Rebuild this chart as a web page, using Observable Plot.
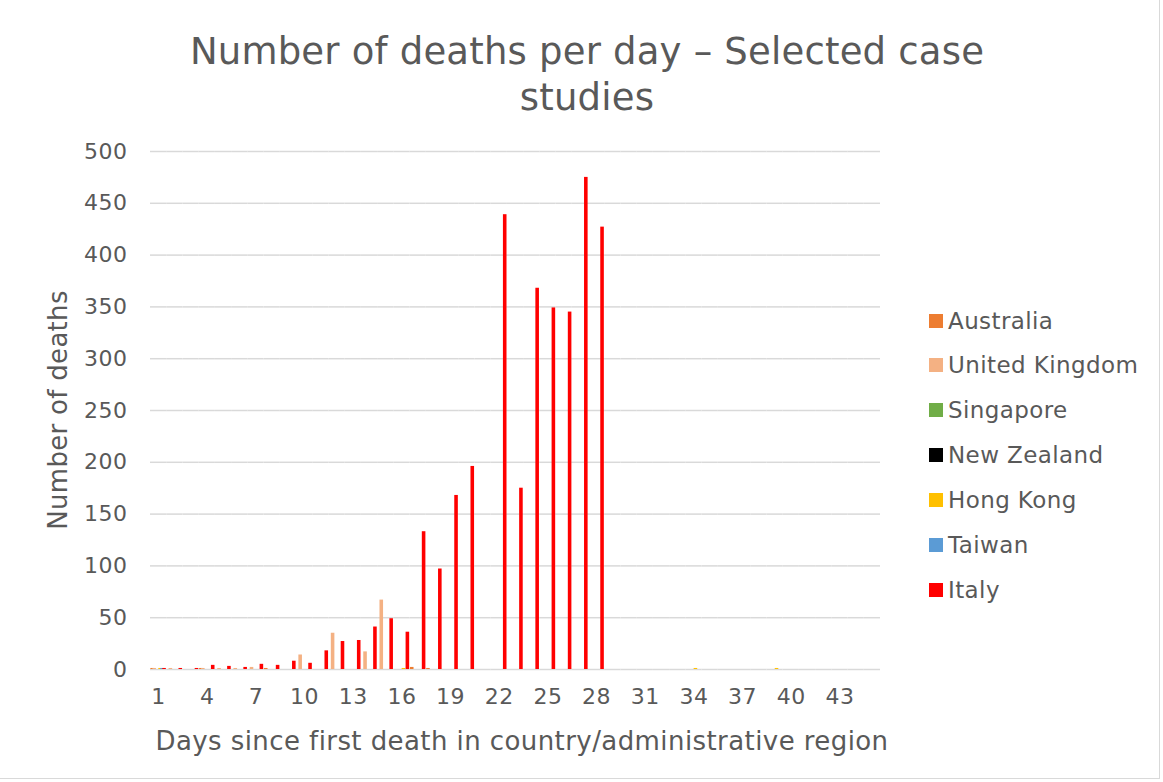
<!DOCTYPE html>
<html>
<head>
<meta charset="utf-8">
<script src="https://cdn.jsdelivr.net/npm/d3@7"></script>
<script src="https://cdn.jsdelivr.net/npm/@observablehq/plot@0.6"></script>
<style>
  body { margin: 0; background: #fff; }
  #chart { position: relative; width: 1163px; height: 782px; overflow: hidden; background: #fff;
           font-family: "DejaVu Sans", Verdana, sans-serif; color: #595959; }
  #chart svg { position: absolute; left: 0; top: 0; }
  #chart svg text { letter-spacing: 0.5px; }
  .title { position: absolute; left: 0; width: 1174px; text-align: center; font-size: 37px; line-height: 46px; top: 29px; white-space: nowrap; letter-spacing: 0.2px; }
  .ytitle { position: absolute; left: 58px; top: 410px; font-size: 26px; transform: translate(-50%, -50%) rotate(-90deg); white-space: nowrap; letter-spacing: 0.3px; }
  .xtitle { position: absolute; left: 522px; top: 741px; font-size: 26px; transform: translate(-50%, -50%); white-space: nowrap; letter-spacing: 0.42px; }
  .legend { position: absolute; left: 929px; top: 0; }
  .legend .item { position: absolute; left: 0; height: 30px; display: flex; align-items: center; font-size: 23px; white-space: nowrap; transform: translateY(-50%); letter-spacing: 0.4px; }
  .legend .sw { width: 14px; height: 14px; margin-right: 5px; flex: none; }
  .border { position: absolute; left: -2px; top: -2px; width: 1162px; height: 781px; border: 1px solid #d9d9d9; box-sizing: border-box; pointer-events: none; }
</style>
</head>
<body>
<div id="chart"></div>
<script>
// ---- data ----
const days = [1,2,3,4,5,6,7,8,9,10,11,12,13,14,15,16,17,18,19,20,21,22,23,24,25,26,27,28,29,30,31,32,33,34,35,36,37,38,39,40,41,42,43,44,45];
const xTickLabels = [1,4,7,10,13,16,19,22,25,28,31,34,37,40,43];
const yTicks = [0,50,100,150,200,250,300,350,400,450,500];
const countries = ["Australia","United Kingdom","Singapore","New Zealand","Hong Kong","Taiwan","Italy"];
const colors = ["#ED7D31","#F4B183","#70AD47","#000000","#FFC000","#5B9BD5","#FF0000"];

const australia = [1,0,0,1,0,0,0,1,0,0,0,0,0,0,0,0,2,1,0,0,0,0,0,0,0,0,0,0,0,0,0,0,0,0,0,0,0,0,0,0,0,0,0,0,0];
const unitedKingdom = [1,1,0,1,1,1,2,0,0,14,0,35,0,17,67,0,0,0,0,0,0,0,0,0,0,0,0,0,0,0,0,0,0,0,0,0,0,0,0,0,0,0,0,0,0];
const singapore = [0,0,0,0,0,0,0,0,0,0,0,0,0,0,0,0,0,0,0,0,0,0,0,0,0,0,0,0,0,0,0,0,0,0,0,0,0,0,0,0,0,0,0,0,0];
const newZealand = [0,0,0,0,0,0,0,0,0,0,0,0,0,0,0,0,0,0,0,0,0,0,0,0,0,0,0,0,0,0,0,0,0,0,0,0,0,0,0,0,0,0,0,0,0];
const hongKong = [1,0,0,0,0,0,0,0,0,0,0,0,0,0,0,1,0,0,0,0,0,0,0,0,0,0,0,0,0,0,0,0,0,1,0,0,0,0,1,0,0,0,0,0,0];
const taiwan = [1,0,0,0,0,0,0,0,0,0,0,0,0,0,0,0,0,0,0,0,0,0,0,0,0,0,0,0,0,0,0,0,0,0,0,0,0,0,0,0,0,0,0,0,0];
const italy = [1,1,1,4,3,2,5,4,8,6,18,27,28,41,49,36,133,97,168,196,0,439,175,368,349,345,475,427,0,0,0,0,0,0,0,0,0,0,0,0,0,0,0,0,0];

const series = [australia, unitedKingdom, singapore, newZealand, hongKong, taiwan, italy];

const data = [];
countries.forEach((c, i) => series[i].forEach((v, j) => data.push({day: days[j], country: c, deaths: v})));

const chart = document.getElementById("chart");

const plot = Plot.plot({
  width: 1163,
  height: 782,
  marginLeft: 150,
  marginRight: 283,
  marginTop: 151,
  marginBottom: 113,
  style: {fontFamily: "'DejaVu Sans', Verdana, sans-serif", fontSize: "22px", color: "#595959", background: "transparent", overflow: "visible"},
  facet: {data, x: "day"},
  fx: {domain: days, padding: 0, round: false, axis: "bottom", tickSize: 0, tickPadding: 19,
       tickFormat: d => xTickLabels.includes(d) ? String(d) : "", label: null},
  x: {domain: countries, axis: null, round: false, paddingInner: 0, paddingOuter: 0.6},
  y: {domain: [0, 500], ticks: yTicks, tickSize: 0, tickPadding: 23, label: null, tickFormat: d => String(d)},
  color: {domain: countries, range: colors},
  marks: [
    Plot.ruleY(yTicks, {stroke: "#d9d9d9", strokeWidth: 1.5}),
    Plot.barY(data, {x: "country", y: "deaths", fill: "country", insetLeft: -0.8, insetRight: -0.8})
  ]
});
chart.appendChild(plot);

// title
const title = document.createElement("div");
title.className = "title";
title.innerHTML = "Number of deaths per day – Selected case<br>studies";
chart.appendChild(title);

const yt = document.createElement("div");
yt.className = "ytitle";
yt.textContent = "Number of deaths";
chart.appendChild(yt);

const xt = document.createElement("div");
xt.className = "xtitle";
xt.textContent = "Days since first death in country/administrative region";
chart.appendChild(xt);

// legend
const legendY = [321, 365, 410, 455, 500, 545, 590];
const legend = document.createElement("div");
legend.className = "legend";
countries.forEach((c, i) => {
  const item = document.createElement("div");
  item.className = "item";
  item.style.top = legendY[i] + "px";
  const sw = document.createElement("span");
  sw.className = "sw";
  sw.style.background = colors[i];
  const label = document.createElement("span");
  label.textContent = c;
  item.appendChild(sw);
  item.appendChild(label);
  legend.appendChild(item);
});
chart.appendChild(legend);

const border = document.createElement("div");
border.className = "border";
chart.appendChild(border);
</script>
</body>
</html>
